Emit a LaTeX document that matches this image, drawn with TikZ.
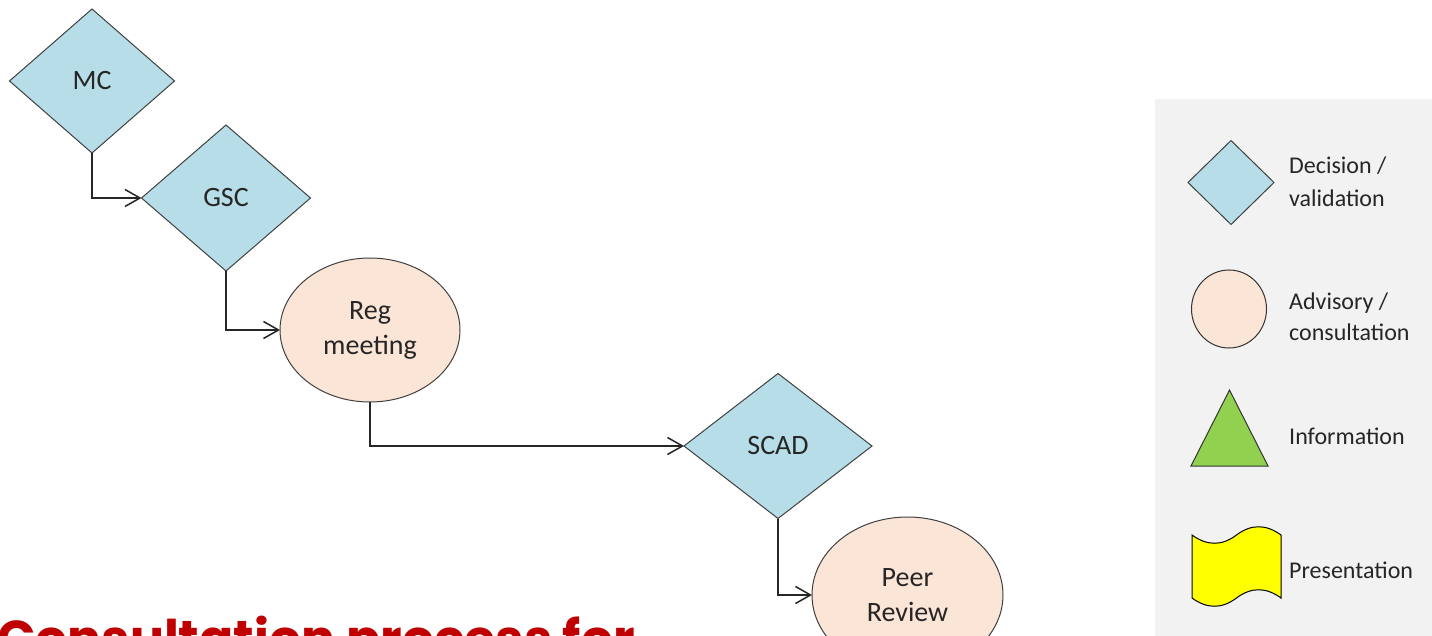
\documentclass[tikz,border=0pt]{standalone}
\usepackage{fontspec}
\setmainfont{Carlito}
\newfontfamily\titlefont{Poppins}
\usetikzlibrary{shapes.geometric,arrows.meta}
\definecolor{dblue}{HTML}{B7DEE8}
\definecolor{peach}{HTML}{FBE5D6}
\definecolor{lgray}{HTML}{F2F2F2}
\definecolor{tgreen}{HTML}{92D050}
\definecolor{tyellow}{HTML}{FFFF00}
\definecolor{txt}{HTML}{262626}
\definecolor{dred}{HTML}{C00000}
\definecolor{edgec}{HTML}{404040}
\begin{document}
\begin{tikzpicture}[x=1pt,y=-1pt,
  decision/.style={diamond, draw=edgec, line width=1pt, fill=dblue, inner sep=0pt, outer sep=0pt,
    font=\fontsize{28}{35}\selectfont, text=txt, align=center},
  advisory/.style={ellipse, draw=edgec, line width=1pt, fill=peach, inner sep=0pt, outer sep=0pt,
    font=\fontsize{28}{35}\selectfont, text=txt, align=center},
  conn/.style={draw=black!85, line width=1.5pt, -{Straight Barb[length=15pt,width=17pt]}},
  legtext/.style={anchor=base west, inner sep=0pt, font=\fontsize{24}{30}\selectfont, text=txt}
]
\useasboundingbox (0,0) rectangle (1432,636);
\clip (0,0) rectangle (1432,636);
\fill[white] (0,0) rectangle (1432,636);

% legend background
\fill[lgray] (1155,99) rectangle (1440,640);

% main nodes
\node[decision, minimum width=165pt, minimum height=144pt] (mc) at (92,81) {MC};
\node[decision, minimum width=169pt, minimum height=146pt] (gsc) at (226,198) {GSC};
\node[advisory, minimum width=180pt, minimum height=144pt] (reg) at (370,330) {Reg\\meeting};
\node[decision, minimum width=188pt, minimum height=145pt] (scad) at (778,446) {SCAD};
\node[advisory, minimum width=191pt, minimum height=156pt] (peer) at (907.5,595) {Peer\\Review};

% connectors
\draw[conn] (mc.south) |- (gsc.west);
\draw[conn] (gsc.south) |- (reg.west);
\draw[conn] (reg.south) |- (scad.west);
\draw[conn] (scad.south) |- (peer.west);

% title
\node[anchor=base west, inner sep=0pt, text=dred, font=\titlefont\bfseries\fontsize{50.5}{56}\selectfont] (title) at (-3,656) {Consultation process for};

% legend symbols
\node[diamond, draw=edgec, line width=1pt, fill=dblue, inner sep=0pt, outer sep=0pt,
  minimum width=86pt, minimum height=84pt] (ldec) at (1231,182.5) {};
\node[ellipse, draw=black!80, line width=1pt, fill=peach, inner sep=0pt, outer sep=0pt,
  minimum width=75pt, minimum height=78pt] (ladv) at (1229,309) {};
\draw[black!80, line width=1pt, fill=tgreen] (1229.5,390) -- (1268,466) -- (1191,466) -- cycle;
\draw[black, line width=1pt, fill=tyellow]
  (1192,535) .. controls (1207,546) and (1222,546) .. (1236.5,535)
  .. controls (1251,524) and (1266,524) .. (1281,535)
  -- (1281,598)
  .. controls (1266,587) and (1251,587) .. (1236.5,598)
  .. controls (1222,609) and (1207,609) .. (1192,598) -- cycle;

% legend texts
\node[legtext] (t1a) at (1289,174) {Decision /};
\node[legtext] (t1b) at (1289,207) {validation};
\node[legtext] (t2a) at (1289,309) {Advisory /};
\node[legtext] (t2b) at (1289,341) {consultation};
\node[legtext] (t3) at (1289,444) {Information};
\node[legtext] (t4) at (1289,578) {Presentation};
\end{tikzpicture}
\end{document}
